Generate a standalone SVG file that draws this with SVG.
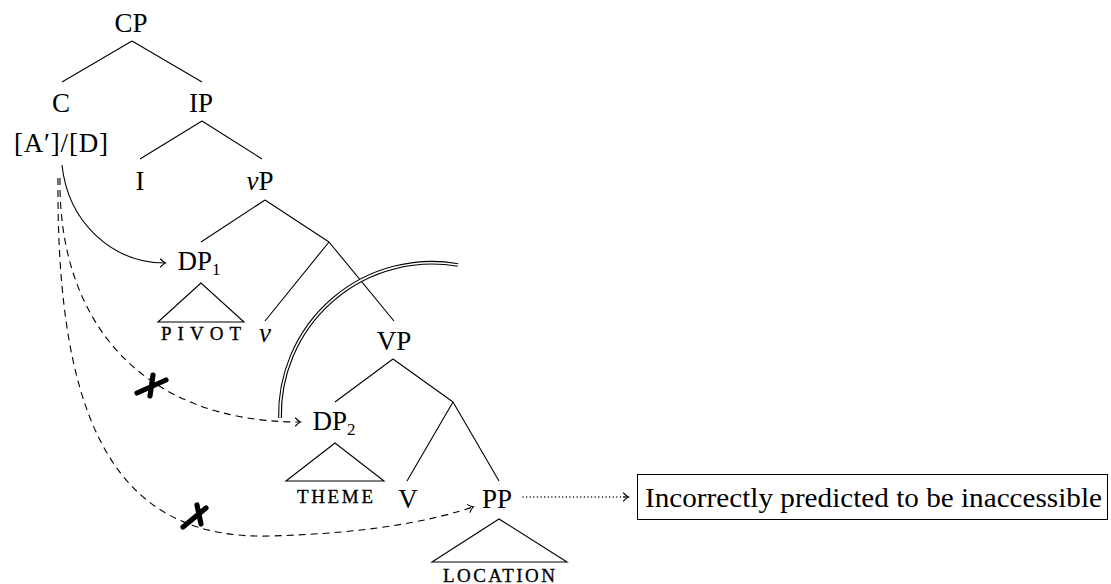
<svg xmlns="http://www.w3.org/2000/svg" width="1111" height="584" viewBox="0 0 1111 584">
<style>
text{font-family:"Liberation Serif","DejaVu Serif",serif;fill:#000}
.lbl{font-size:27px;text-anchor:middle}
.sc{font-size:19px;text-anchor:middle;stroke:#000;stroke-width:0.3}
.sub{font-size:17px}
.it{font-style:italic}
.edge{stroke:#000;stroke-width:1.1;fill:none}
.arr{stroke:#000;stroke-width:1.1;fill:none}
.dash{stroke-dasharray:7 5}
.dot{stroke-dasharray:0.01 3.6;stroke-width:1.5;stroke-linecap:round}
</style>
<defs>
<marker id="tip" markerUnits="userSpaceOnUse" markerWidth="12" markerHeight="12" viewBox="-8 -6 10 12" refX="0" refY="0" orient="auto">
<path d="M-4.5,-4 Q-1.5,-0.8 0.5,0 Q-1.5,0.8 -4.5,4" fill="none" stroke="#000" stroke-width="1.1" stroke-linecap="round"/>
</marker>
</defs>
<g id="tree-edges">
<path class="edge" d="M132,41L62,82M132,41L202,82"/>
<path class="edge" d="M202,121L140,159M202,121L262,159"/>
<path class="edge" d="M265,200L201,242M265,200L329,242"/>
<path class="edge" d="M329,242L265,321M329,242L394,321"/>
<path class="edge" d="M393,359L335,402M393,359L453,402"/>
<path class="edge" d="M453,402L407,481M453,402L499,481"/>
</g>
<g id="CP"><text class="lbl" x="131" y="32">CP</text></g>
<g id="C"><text class="lbl" x="61" y="112">C</text><text class="lbl" x="61" y="152" textLength="94" lengthAdjust="spacing">[A′]/[D]</text></g>
<g id="IP"><text class="lbl" x="201" y="112">IP</text></g>
<g id="I"><text class="lbl" x="140" y="190">I</text></g>
<g id="vP"><text class="lbl" x="260" y="190"><tspan class="it">v</tspan>P</text></g>
<g id="DP1"><text class="lbl" x="199" y="270">DP<tspan class="sub" dy="5">1</tspan></text>
<path class="edge" d="M201,283L158,322L244,322Z"/>
<text class="sc" x="201" y="340" textLength="80" lengthAdjust="spacing">PIVOT</text></g>
<g id="v"><text class="lbl it" x="265" y="342">v</text></g>
<g id="VP"><text class="lbl" x="394" y="350">VP</text></g>
<g id="DP2"><text class="lbl" x="334" y="430">DP<tspan class="sub" dy="5">2</tspan></text>
<path class="edge" d="M335,443L286,481L384,481Z"/>
<text class="sc" x="335" y="503" textLength="76" lengthAdjust="spacing">THEME</text></g>
<g id="V"><text class="lbl" x="408" y="508">V</text></g>
<g id="PP"><text class="lbl" x="497" y="508">PP</text>
<path class="edge" d="M499,519L432,562L567,562Z"/>
<text class="sc" x="499" y="582" textLength="112" lengthAdjust="spacing">LOCATION</text></g>
<g id="note"><rect x="637.5" y="474.5" width="470" height="45" fill="none" stroke="#000" stroke-width="1"/>
<text x="645" y="507" font-size="27" textLength="457" lengthAdjust="spacingAndGlyphs">Incorrectly predicted to be inaccessible</text></g>
<g id="connectors">
<path class="arr" d="M62,165C68,222 112,263 165,263" marker-end="url(#tip)"/>
<path class="arr dash" d="M60,178C58,322 142,422 300,422" marker-end="url(#tip)"/>
<path class="arr dash" d="M58,178C56,430 120,540 270,536C380,533 440,518 473,507" marker-end="url(#tip)"/>
<path class="arr dot" d="M523,497L628,497"/>
<path class="arr" d="M623,497L628,497" marker-end="url(#tip)"/>
<path d="M280,418A152,152 0 0 1 458,265" fill="none" stroke="#000" stroke-width="3.8"/>
<path d="M280,419A152,152 0 0 1 458,265" fill="none" stroke="#fff" stroke-width="1.6"/>
<path d="M137,393L166,380M153,375L150,396" stroke="#000" stroke-width="5.2" stroke-linecap="round" fill="none"/>
<path d="M183,527L206,508M197,505L201,524" stroke="#000" stroke-width="5.2" stroke-linecap="round" fill="none"/>
</g>
</svg>
